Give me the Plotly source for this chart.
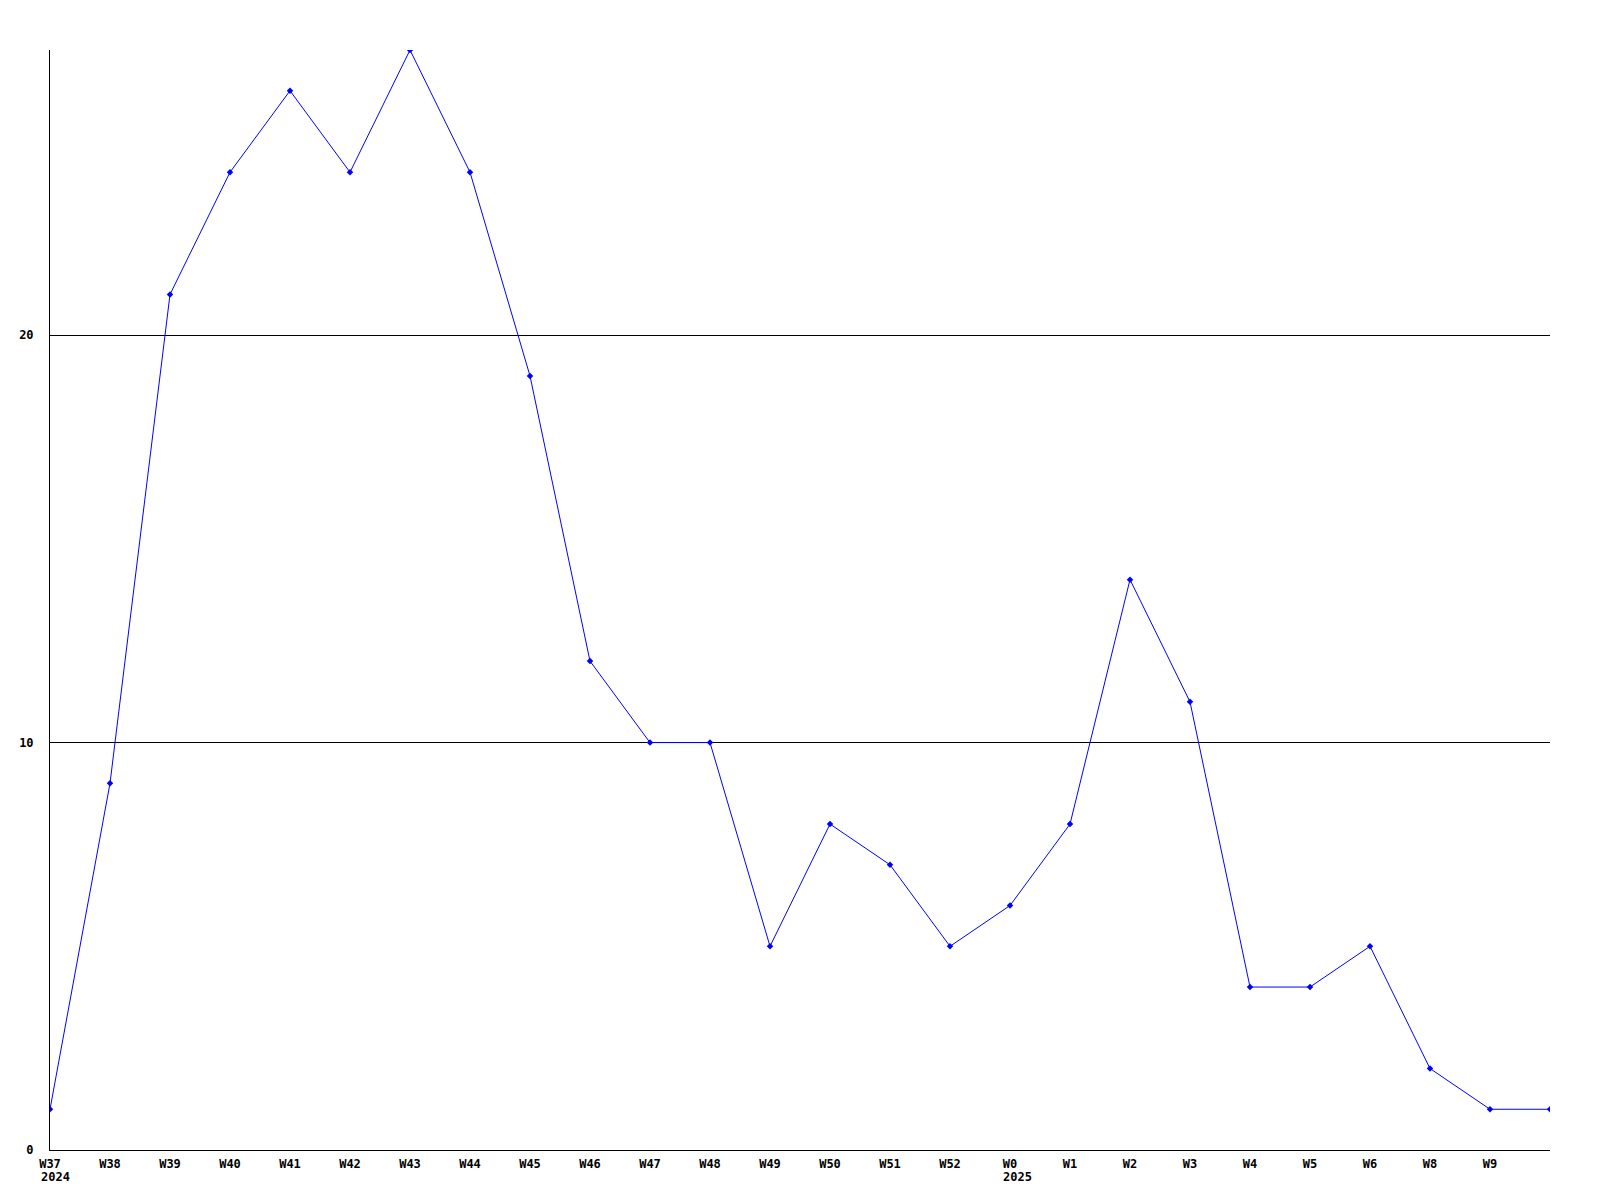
import plotly.graph_objects as go

weeks = ["W37", "W38", "W39", "W40", "W41", "W42", "W43", "W44", "W45", "W46",
         "W47", "W48", "W49", "W50", "W51", "W52", "W0", "W1", "W2", "W3",
         "W4", "W5", "W6", "W8", "W9", ""]
values = [1, 9, 21, 24, 26, 24, 27, 24, 19, 12,
          10, 10, 5, 8, 7, 5, 6, 8, 14, 11,
          4, 4, 5, 2, 1, 1]
year_labels = [("2024", 0, -11), ("2025", 16, -9)]
y_ticks = [0, 10, 20]

x = list(range(len(values)))
font_family = "DejaVu Sans Mono"

fig = go.Figure()
fig.add_trace(go.Scatter(
    x=x, y=values, mode="lines+markers",
    line=dict(color="#0000ff", width=1),
    marker=dict(symbol="diamond", size=5, color="#0000ff"),
    showlegend=False, hoverinfo="skip",
))

for text, xi, shift in year_labels:
    fig.add_annotation(
        x=xi, y=0, xref="x", yref="paper", text=text, showarrow=False,
        xanchor="left", yanchor="top", xshift=shift, yshift=-18,
        font=dict(family=font_family, size=12, color="black", weight="bold"),
    )

fig.update_layout(
    width=1580, height=1180,
    margin=dict(l=42, r=38, t=42, b=38),
    paper_bgcolor="white", plot_bgcolor="white",
    xaxis=dict(
        range=[0, len(values) - 1],
        tickmode="array", tickvals=x[:-1], ticktext=weeks[:-1],
        showgrid=False, zeroline=False, ticks="",
        showline=True, linecolor="black", linewidth=1,
        tickfont=dict(family=font_family, size=12, color="black", weight="bold"),
        ticklabelstandoff=3,
    ),
    yaxis=dict(
        range=[0, 27],
        tickmode="array", tickvals=y_ticks, ticktext=[str(v) for v in y_ticks],
        showgrid=True, gridcolor="black", gridwidth=1, zeroline=False, ticks="",
        showline=True, linecolor="black", linewidth=1,
        tickfont=dict(family=font_family, size=12, color="black", weight="bold"),
        ticklabelstandoff=13,
    ),
)

fig.write_html("out.html")
